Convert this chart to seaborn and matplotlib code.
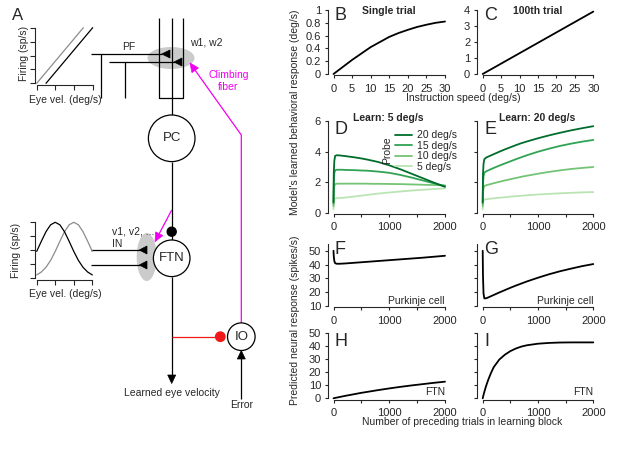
import matplotlib
matplotlib.use("Agg")
import matplotlib.pyplot as plt
import pandas as pd
import seaborn as sns
from matplotlib.patches import Circle, Ellipse, Polygon
from matplotlib.lines import Line2D

# ---------------- data ----------------
speed = [0, 2.5, 5, 7.5, 10, 12.5, 15, 17.5, 20, 22.5, 25, 27.5, 30]
single_trial = [0, 0.11, 0.22, 0.32, 0.42, 0.50, 0.58, 0.64, 0.69, 0.735, 0.77, 0.80, 0.82]
trial_100 = [0, 0.325, 0.65, 0.975, 1.30, 1.625, 1.95, 2.275, 2.60, 2.925, 3.25, 3.575, 3.90]

trials = [0, 5, 15, 30, 60, 100, 150, 200, 300, 400, 500, 600, 700, 800,
          1000, 1200, 1400, 1600, 1800, 2000]

probe_labels = ["20 deg/s", "15 deg/s", "10 deg/s", "5 deg/s"]
probe_colors = ["#006d2c", "#31a354", "#74c476", "#bae4b3"]

learn5_p20 = [0.69, 2.6, 3.4, 3.72, 3.76, 3.75, 3.73, 3.71, 3.66, 3.61, 3.55, 3.48, 3.40, 3.32,
              3.10, 2.84, 2.55, 2.26, 1.97, 1.69]
learn5_p15 = [0.58, 2.0, 2.6, 2.78, 2.81, 2.81, 2.81, 2.80, 2.79, 2.78, 2.76, 2.75, 2.72, 2.69,
              2.61, 2.47, 2.30, 2.11, 1.92, 1.74]
learn5_p10 = [0.42, 1.35, 1.75, 1.87, 1.90, 1.90, 1.90, 1.90, 1.90, 1.90, 1.90, 1.90, 1.89, 1.89,
              1.88, 1.87, 1.85, 1.83, 1.81, 1.79]
learn5_p5 = [0.22, 0.70, 0.88, 0.93, 0.95, 0.96, 0.97, 0.99, 1.03, 1.07, 1.12, 1.16, 1.21, 1.25,
             1.32, 1.39, 1.45, 1.50, 1.55, 1.59]

learn20_p20 = [0.69, 2.5, 3.2, 3.5, 3.6, 3.67, 3.75, 3.83, 3.99, 4.14, 4.28, 4.42, 4.55, 4.66,
               4.87, 5.06, 5.23, 5.39, 5.53, 5.66]
learn20_p15 = [0.58, 1.9, 2.4, 2.62, 2.70, 2.77, 2.85, 2.93, 3.08, 3.22, 3.36, 3.50, 3.63, 3.76,
               3.99, 4.19, 4.37, 4.52, 4.65, 4.76]
learn20_p10 = [0.42, 1.3, 1.6, 1.74, 1.79, 1.83, 1.88, 1.93, 2.02, 2.11, 2.19, 2.27, 2.35, 2.42,
               2.55, 2.67, 2.77, 2.86, 2.93, 2.99]
learn20_p5 = [0.22, 0.65, 0.80, 0.86, 0.88, 0.90, 0.92, 0.94, 0.98, 1.01, 1.05, 1.08, 1.11, 1.14,
              1.19, 1.23, 1.27, 1.30, 1.33, 1.35]

pc_learn5 = [50, 46, 42.5, 41, 40.6, 40.6, 40.7, 40.8, 41.1, 41.4, 41.7, 42.0, 42.3, 42.6,
             43.2, 43.8, 44.4, 45.0, 45.7, 46.4]
pc_learn20 = [50, 32, 19, 15.5, 15.6, 16.2, 17.1, 18.0, 19.8, 21.5, 23.2, 24.8, 26.3, 27.8,
              30.5, 33.0, 35.2, 37.1, 38.9, 40.4]
ftn_learn5 = [0, 0.05, 0.15, 0.3, 0.55, 0.9, 1.35, 1.8, 2.6, 3.4, 4.2, 4.9, 5.6, 6.3,
              7.6, 8.8, 9.9, 10.9, 11.9, 12.8]
ftn_learn20 = [0, 0.9, 2.6, 5.0, 9.3, 14.2, 19.5, 24.0, 29.8, 33.5, 36.3, 38.3, 39.8, 40.8,
               42.0, 42.6, 42.9, 43.0, 43.0, 43.0]

# schematic tuning curves (inset sketches in panel A)
pf_x_gray = [0, 2.5]
pf_x_black = [0.5, 3]
pf_y = [0, 4]
tune_x = [0, 0.25, 0.5, 0.75, 1, 1.25, 1.5, 1.75, 2, 2.25, 2.5, 2.75, 3]
tune_black = [1.90, 2.63, 3.32, 3.82, 4.0, 3.82, 3.32, 2.63, 1.90, 1.25, 0.75, 0.41, 0.20]
tune_gray = [0.20, 0.41, 0.75, 1.25, 1.90, 2.63, 3.32, 3.82, 4.0, 3.82, 3.32, 2.63, 1.90]

# ---------------- style ----------------
sns.set_style("ticks")
plt.rcParams["font.family"] = ["Liberation Sans", "DejaVu Sans"]
plt.rcParams["font.size"] = 7.5
plt.rcParams["axes.linewidth"] = 0.8

W, H = 617, 454
fig = plt.figure(figsize=(W / 100, H / 100), dpi=100)


def px_axes(x0, y0, x1, y1, **kw):
    return fig.add_axes([x0 / W, 1 - y1 / H, (x1 - x0) / W, (y1 - y0) / H], **kw)


def fig_text(x, y, s, **kw):
    kw.setdefault("ha", "center")
    kw.setdefault("va", "center")
    fig.text(x / W, 1 - y / H, s, **kw)


# ---------------- schematic (panel A) ----------------
axS = fig.add_axes([0, 0, 1, 1], zorder=0)
axS.set_xlim(0, W)
axS.set_ylim(H, 0)
axS.axis("off")

LW = 0.9
MAG = "#f000f0"
RED = "#f01818"


def line(xs, ys, color="black", lw=LW, z=2):
    axS.plot(xs, ys, color=color, lw=lw, solid_capstyle="butt", zorder=z)


def tri(tip, base, hw, color="black", z=3):
    dx, dy = tip[0] - base[0], tip[1] - base[1]
    n = (dx ** 2 + dy ** 2) ** 0.5
    px, py = -dy / n * hw, dx / n * hw
    axS.add_patch(Polygon([tip, (base[0] + px, base[1] + py), (base[0] - px, base[1] - py)],
                          closed=True, facecolor=color, edgecolor=color, lw=0.5, zorder=z))


# gray synapse ellipses
axS.add_patch(Ellipse((171, 58), 47, 22, facecolor="#cbcbcb", edgecolor="none", zorder=1))
axS.add_patch(Ellipse((146.7, 257), 20, 48, facecolor="#cbcbcb", edgecolor="none", zorder=1))

# PC dendrite
line([159.3, 159.3, 183.3, 183.3], [18.3, 97.7, 97.7, 18.3])
line([171.7, 171.7], [18.3, 115])
# parallel fibers
line([90.7, 162], [54, 54])
line([101, 101], [54, 97.7])
line([109.3, 174.5], [62, 62])
line([125, 125], [62, 97.7])
tri((161.7, 54), (170, 54), 4)
tri((174, 62), (182, 62), 4)
# PC circle and axon
axS.add_patch(Circle((171.7, 138.3), 23.3, facecolor="white", edgecolor="black", lw=LW, zorder=3))
line([171.7, 171.7], [161.6, 240])
axS.add_patch(Circle((171.7, 231.7), 4.5, facecolor="black", edgecolor="black", zorder=4))
# FTN
axS.add_patch(Circle((171.7, 258.3), 18.3, facecolor="white", edgecolor="black", lw=LW, zorder=3))
line([171.7, 171.7], [276.6, 376])
tri((171.7, 383.5), (171.7, 375), 4)
# IN lines
line([90.7, 140], [250, 250])
line([90.7, 140], [265, 265])
tri((139.3, 250), (147, 250), 4)
tri((139.3, 265), (147, 265), 4)
# red inhibitory line to IO
line([171.7, 217], [336.7, 336.7], color=RED)
axS.add_patch(Circle((220.3, 336.7), 4.7, facecolor=RED, edgecolor=RED, zorder=4))
# IO
axS.add_patch(Circle((241.3, 336.7), 13.8, facecolor="white", edgecolor="black", lw=LW, zorder=3))
line([241.3, 241.3], [358, 399])
tri((241.3, 350.6), (241.3, 359), 4)
# climbing fiber
line([241.3, 241.3, 193.5], [322.9, 135, 68], color=MAG)
tri((190, 63), (195.2, 70.3), 4, color=MAG)
line([171.7, 158], [210, 236], color=MAG)
tri((155, 241.7), (159.2, 233.7), 4, color=MAG)

# schematic texts
fig_text(11.5, 16, "A", fontsize=12, ha="left")
fig_text(128.3, 46.7, "PF")
fig_text(190, 42.3, "w1, w2", ha="left")
fig_text(228.3, 75, "Climbing", color=MAG)
fig_text(228.3, 86.5, "fiber", color=MAG)
fig_text(171.7, 138.3, "PC", fontsize=9.5)
fig_text(171.7, 258.3, "FTN", fontsize=9.5)
fig_text(241.3, 336.7, "IO", fontsize=9.5)
fig_text(111.7, 231.7, "v1, v2, ...", ha="left")
fig_text(111.7, 244, "IN", ha="left")
fig_text(171.7, 393.3, "Learned eye velocity")
fig_text(241.3, 404.5, "Error")
fig_text(24, 53, "Firing (sp/s)", rotation=90)
fig_text(65, 100, "Eye vel. (deg/s)")
fig_text(16, 250, "Firing (sp/s)", rotation=90)
fig_text(65, 294, "Eye vel. (deg/s)")


def inset_style(ax):
    sns.despine(ax=ax)
    ax.spines["left"].set_position(("outward", 1.3))
    ax.spines["bottom"].set_position(("outward", 1.4))
    ax.set_xlim(0, 3)
    ax.set_ylim(0, 4)
    ax.set_xticks([0, 1, 2, 3])
    ax.set_yticks([0, 1, 2, 3, 4])
    ax.set_xticklabels([])
    ax.set_yticklabels([])
    ax.tick_params(length=3.6, width=0.8, direction="out")
    ax.set_xlabel("")
    ax.set_ylabel("")
    ax.patch.set_alpha(0)


axT = px_axes(36.7, 27.7, 92.7, 83.3, zorder=2)
sns.lineplot(x=pf_x_gray, y=pf_y, ax=axT, color="#8c8c8c", lw=0.9, clip_on=False)
sns.lineplot(x=pf_x_black, y=pf_y, ax=axT, color="black", lw=0.9, clip_on=False)
inset_style(axT)

axT2 = px_axes(36.7, 222.3, 92.3, 277.7, zorder=2)
sns.lineplot(x=tune_x, y=tune_gray, ax=axT2, color="#8c8c8c", lw=0.9, clip_on=False)
sns.lineplot(x=tune_x, y=tune_black, ax=axT2, color="black", lw=0.9, clip_on=False)
inset_style(axT2)

# ---------------- data panels ----------------
X0L, X1L = 333.5, 445
X0R, X1R = 482.7, 593.3
axB = px_axes(X0L, 10, X1L, 74, zorder=2)
axC = px_axes(X0R, 10, X1R, 74, zorder=2)
axD = px_axes(X0L, 121, X1L, 212.7, zorder=2)
axE = px_axes(X0R, 121, X1R, 212.7, zorder=2)
axF = px_axes(X0L, 243.9, X1L, 306, zorder=2)
axG = px_axes(X0R, 243.9, X1R, 306, zorder=2)
axH = px_axes(X0L, 333.3, X1L, 398.3, zorder=2)
axI = px_axes(X0R, 333.3, X1R, 398.3, zorder=2)

LWD = 1.3
sns.lineplot(x=speed, y=single_trial, ax=axB, color="black", lw=LWD, clip_on=False)
sns.lineplot(x=speed, y=trial_100, ax=axC, color="black", lw=LWD, clip_on=False)

learn5_series = [learn5_p20, learn5_p15, learn5_p10, learn5_p5]
learn20_series = [learn20_p20, learn20_p15, learn20_p10, learn20_p5]
for ax, series in ((axD, learn5_series), (axE, learn20_series)):
    df = pd.DataFrame({
        "trial": trials * 4,
        "response": [v for s in series for v in s],
        "probe": [lab for lab in probe_labels for _ in trials],
    })
    sns.lineplot(data=df, x="trial", y="response", hue="probe",
                 hue_order=probe_labels[::-1], palette=probe_colors[::-1],
                 ax=ax, lw=LWD, legend=False, clip_on=False)

sns.lineplot(x=trials, y=pc_learn5, ax=axF, color="black", lw=LWD, clip_on=False)
sns.lineplot(x=trials, y=pc_learn20, ax=axG, color="black", lw=LWD, clip_on=False)
sns.lineplot(x=trials, y=ftn_learn5, ax=axH, color="black", lw=LWD, clip_on=False)
sns.lineplot(x=trials, y=ftn_learn20, ax=axI, color="black", lw=LWD, clip_on=False)


def panel_style(ax, xlim, ylim, xticks, xlabels, yticks, ylabels, ybounds):
    sns.despine(ax=ax)
    ax.spines["left"].set_position(("outward", 4))
    ax.spines["bottom"].set_position(("outward", 1))
    ax.set_xlim(*xlim)
    ax.set_ylim(*ylim)
    ax.spines["left"].set_bounds(*ybounds)
    ax.spines["bottom"].set_bounds(*xlim)
    ax.set_xticks(xticks)
    ax.set_xticklabels(xlabels)
    ax.set_yticks(yticks)
    ax.set_yticklabels(ylabels)
    ax.tick_params(length=2.5, width=0.8, labelsize=8, direction="out")
    ax.tick_params(axis="x", pad=3.5)
    ax.tick_params(axis="y", pad=2.5)
    ax.set_xlabel("")
    ax.set_ylabel("")
    ax.patch.set_alpha(0)


sp_ticks = [0, 5, 10, 15, 20, 25, 30]
sp_labels = ["0", "5", "10", "15", "20", "25", "30"]
tr_ticks = [0, 500, 1000, 1500, 2000]
tr_labels = ["0", "", "1000", "", "2000"]

panel_style(axB, (0, 30), (0, 1), sp_ticks, sp_labels,
            [0, 0.2, 0.4, 0.6, 0.8, 1], ["0", "0.2", "0.4", "0.6", "0.8", "1"], (0, 1))
panel_style(axC, (0, 30), (0, 4), sp_ticks, sp_labels,
            [0, 1, 2, 3, 4], ["0", "1", "2", "3", "4"], (0, 4))
panel_style(axD, (0, 2000), (0, 6), tr_ticks, tr_labels,
            [0, 2, 4, 6], ["0", "2", "4", "6"], (0, 6))
panel_style(axE, (0, 2000), (0, 6), tr_ticks, tr_labels,
            [0, 2, 4, 6], [""] * 4, (0, 6))
panel_style(axF, (0, 2000), (10, 55), tr_ticks, tr_labels,
            [10, 20, 30, 40, 50], ["10", "20", "30", "40", "50"], (10, 55))
panel_style(axG, (0, 2000), (10, 55), tr_ticks, tr_labels,
            [10, 20, 30, 40, 50], [""] * 5, (10, 55))
panel_style(axH, (0, 2000), (0, 50), tr_ticks, tr_labels,
            [0, 10, 20, 30, 40, 50], ["0", "10", "20", "30", "40", "50"], (0, 50))
panel_style(axI, (0, 2000), (0, 50), tr_ticks, tr_labels,
            [0, 10, 20, 30, 40, 50], [""] * 6, (0, 50))

# legend in D
handles = [Line2D([], [], color=c, lw=LWD) for c in probe_colors]
axD.legend(handles, probe_labels, loc="upper left", frameon=False,
           bbox_to_anchor=(395 / W, 1 - 130.5 / H), bbox_transform=fig.transFigure,
           borderpad=0, borderaxespad=0, handlelength=1.65, handletextpad=0.45,
           labelspacing=0.04, fontsize=7.5)
fig_text(387.5, 150, "Probe", rotation=90)

# panel letters
for (x, y, s) in [(335, 15.5, "B"), (484, 15.5, "C"), (335, 129, "D"), (484, 129, "E"),
                  (335, 249, "F"), (484, 249, "G"), (335, 341, "H"), (484, 341, "I")]:
    fig_text(x, y, s, fontsize=13, ha="left")

# titles
fig_text(389, 10.5, "Single trial", fontweight="bold")
fig_text(537.5, 10.5, "100th trial", fontweight="bold")
fig_text(388, 118, "Learn: 5 deg/s", fontweight="bold")
fig_text(537, 118, "Learn: 20 deg/s", fontweight="bold")

# in-panel labels
fig_text(445, 300.5, "Purkinje cell", ha="right")
fig_text(593.3, 300.5, "Purkinje cell", ha="right")
fig_text(445, 392, "FTN", ha="right")
fig_text(593.3, 392, "FTN", ha="right")

# shared axis labels
fig_text(295, 112.5, "Model's learned behavioral response (deg/s)", rotation=90)
fig_text(295, 320, "Predicted neural response (spikes/s)", rotation=90)
fig_text(463, 98, "Instruction speed (deg/s)")
fig_text(462, 422, "Number of preceding trials in learning block")

fig.savefig("out.png", dpi=100)
